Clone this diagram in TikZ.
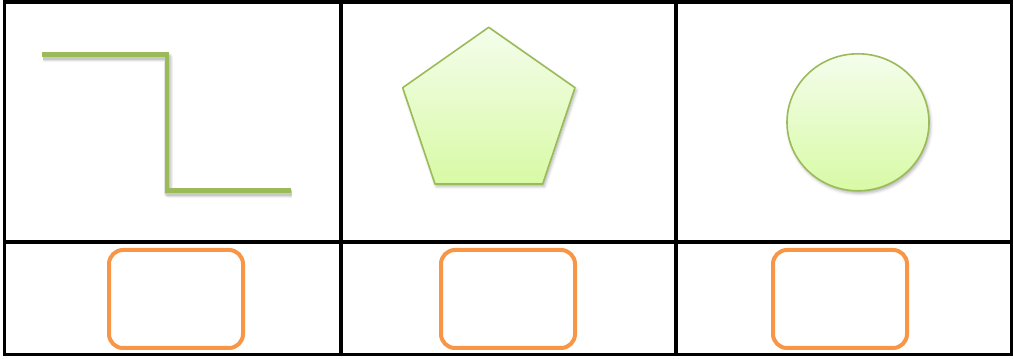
\documentclass[tikz,border=0pt]{standalone}
\usetikzlibrary{shadows.blur}
\definecolor{gline}{RGB}{155,187,89}
\definecolor{gtop}{RGB}{244,253,236}
\definecolor{gbot}{RGB}{216,250,165}
\definecolor{orng}{RGB}{247,150,70}
\tikzset{
  gridline/.style={line width=3.5pt, black},
  shapefill/.style={draw=gline, line width=1.6pt, top color=gtop, bottom color=gbot,
    blur shadow={shadow xshift=1.5pt, shadow yshift=-2.5pt, shadow blur radius=3pt, shadow opacity=30}},
  slot/.style={draw=orng, line width=4pt, rounded corners=14pt, minimum width=134pt, minimum height=98pt, inner sep=0pt},
  stepline/.style={gline, line width=4.8pt},
  stepshadow/.style={black, opacity=0.06, line width=#1}
}
\begin{document}
\begin{tikzpicture}[x=1pt,y=1pt]
\useasboundingbox (0,0) rectangle (1013,359);
% grid
\coordinate (tl) at (4.7,357.2);
\coordinate (br) at (1011.5,4.5);
\draw[gridline] (tl) rectangle (br);
\coordinate (v1t) at (341,357.2); \coordinate (v1b) at (341,4.5);
\coordinate (v2t) at (676,357.2); \coordinate (v2b) at (676,4.5);
\coordinate (hl) at (4.7,117); \coordinate (hr) at (1011.5,117);
\draw[gridline] (v1t) -- (v1b);
\draw[gridline] (v2t) -- (v2b);
\draw[gridline] (hl) -- (hr);
% step line
\coordinate (s1) at (42,304.5);
\coordinate (s2) at (167,304.5);
\coordinate (s3) at (167,168.5);
\coordinate (s4) at (290.7,168.5);
\begin{scope}[transform canvas={xshift=1.2pt,yshift=-3pt}]
\foreach \w in {9pt,7.5pt,6pt,4.5pt}
  \draw[stepshadow=\w, line join=round] (s1) -- (s2) -- (s3) -- (s4);
\end{scope}
\draw[stepline] (s1) -- (s2) -- (s3) -- (s4);
% pentagon
\coordinate (p1) at (488.7,331.7);
\coordinate (p2) at (575,271.3);
\coordinate (p3) at (542.7,175);
\coordinate (p4) at (435,175);
\coordinate (p5) at (402.7,271.3);
\draw[shapefill, line join=round] (p1) -- (p2) -- (p3) -- (p4) -- (p5) -- cycle;
% circle
\draw[shapefill] (858,236.7) ellipse [x radius=71, y radius=68.5];
% slots
\node[slot] (slotA) at (176,60) {};
\node[slot] (slotB) at (508,60) {};
\node[slot] (slotC) at (840,60) {};
\end{tikzpicture}
\end{document}
